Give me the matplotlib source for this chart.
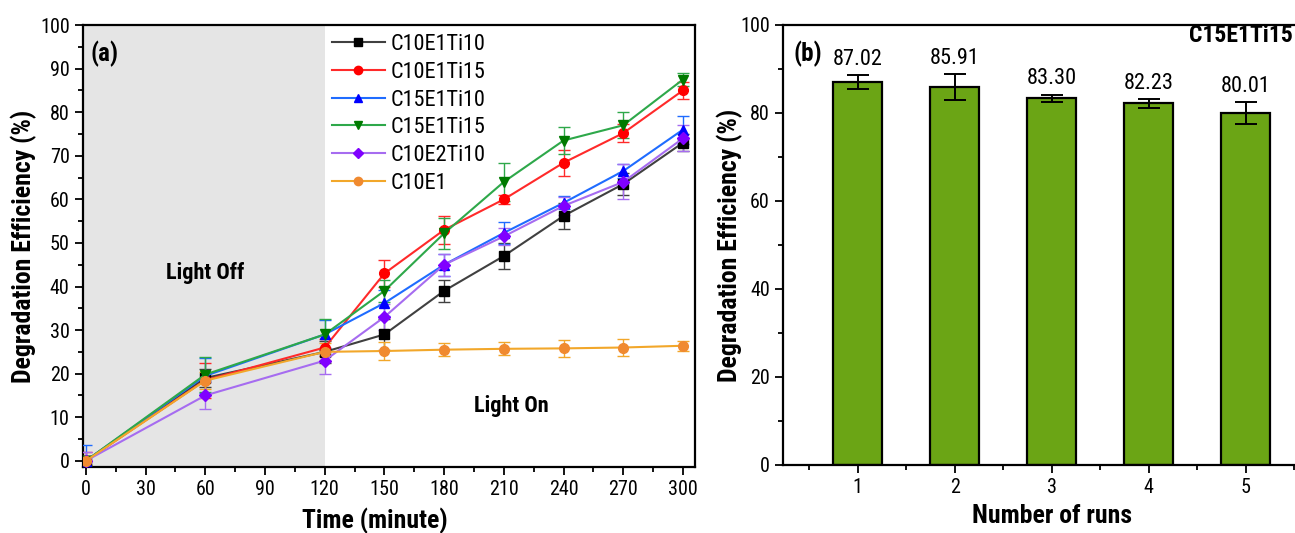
import numpy as np
import matplotlib
matplotlib.use('Agg')
import matplotlib.pyplot as plt
from matplotlib.ticker import MultipleLocator
from matplotlib.lines import Line2D

plt.rcParams['font.family'] = ['Roboto Condensed', 'Liberation Sans', 'DejaVu Sans']

# ── data ─────────────────────────────────────────────
time = [0, 60, 120, 150, 180, 210, 240, 270, 300]

c10e1ti10 = [0, 19, 25, 29, 39, 47, 56.2, 63.5, 73]
c10e1ti10_err = [1, 2, 2.5, 3.5, 2.5, 3, 3, 2.5, 2]
c10e1ti15 = [0, 18.5, 26, 43, 53, 60, 68.4, 75.2, 85]
c10e1ti15_err = [2, 4, 2, 3, 3.2, 1, 3, 2, 2]
c15e1ti10 = [0, 19.5, 29, 36.2, 45, 52.3, 59.2, 66.5, 76]
c15e1ti10_err = [3.7, 4, 3.3, 3, 2.5, 2.5, 1.5, 1.5, 3.2]
c15e1ti15 = [0, 19.8, 29, 39, 52.2, 64, 73.5, 77, 87.5]
c15e1ti15_err = [1, 4, 3.5, 2.5, 3.5, 4.3, 3.2, 3, 1.5]
c10e2ti10 = [0, 15, 23, 33, 45, 51.5, 58.5, 64, 74]
c10e2ti10_err = [2, 3, 3, 3, 2.5, 2, 2, 4, 3]
c10e1 = [0, 18.4, 25, 25.2, 25.5, 25.7, 25.8, 26, 26.4]
c10e1_err = [1, 2, 2, 2, 1.5, 1.5, 2, 2, 1.2]

runs = [1, 2, 3, 4, 5]
run_eff = [87.02, 85.91, 83.30, 82.23, 80.01]
run_err = [1.6, 2.9, 0.9, 1.0, 2.5]

series = [
    ('C10E1Ti10', c10e1ti10, c10e1ti10_err, '#404040', '#000000', 's'),
    ('C10E1Ti15', c10e1ti15, c10e1ti15_err, '#ff2a2a', '#ff0000', 'o'),
    ('C15E1Ti10', c15e1ti10, c15e1ti10_err, '#1f6cff', '#0000ff', '^'),
    ('C15E1Ti15', c15e1ti15, c15e1ti15_err, '#2ea84a', '#007a00', 'v'),
    ('C10E2Ti10', c10e2ti10, c10e2ti10_err, '#a66cf0', '#8000ff', 'D'),
    ('C10E1', c10e1, c10e1_err, '#f2a72a', '#f08a30', 'o'),
]

fig = plt.figure(figsize=(12.95, 5.33), dpi=100)

# ── (a) ─────────────────────────────────────────────
ax = fig.add_axes([0.064, 0.124, 0.4726, 0.829])
ax.axvspan(-1.5, 120, color='#e5e5e5', zorder=0, lw=0)
handles = []
for name, y, e, lc, mc, m in series:
    ms = 6 if m == 'D' else 7
    ax.errorbar(time, y, yerr=e, color=lc, lw=1.5, marker=m, ms=ms,
                mfc=mc, mec=mc, ecolor=lc, elinewidth=1.0, capsize=4,
                capthick=1.0, zorder=3)
    handles.append(Line2D([], [], color=lc, lw=1.5, marker=m, ms=ms - 1,
                          mfc=mc, mec=mc, label=name))
ax.set_xlim(-1.5, 306)
ax.set_ylim(-1.4, 100)
ax.xaxis.set_major_locator(MultipleLocator(30))
ax.xaxis.set_minor_locator(MultipleLocator(15))
ax.yaxis.set_major_locator(MultipleLocator(10))
ax.yaxis.set_minor_locator(MultipleLocator(5))
ax.tick_params(which='both', direction='out', labelsize=14.5, width=1.3)
ax.tick_params(which='major', length=6)
ax.tick_params(which='minor', length=3.5)
for sp in ax.spines.values():
    sp.set_linewidth(1.6)
ax.set_xlabel('Time (minute)', fontsize=18.5, fontweight='bold')
ax.xaxis.set_label_coords(0.477, -0.092)
ax.xaxis.label.set_va('top')
ax.set_ylabel('Degradation Efficiency (%)', fontsize=18.5, fontweight='bold')
ax.yaxis.set_label_coords(-0.075, 0.5)
ax.text(0.012, 0.965, '(a)', transform=ax.transAxes, fontsize=18,
        fontweight='bold', va='top', ha='left')
ax.text(60, 43, 'Light Off', fontsize=16, fontweight='bold', ha='center', va='center')
ax.text(214, 12.5, 'Light On', fontsize=16, fontweight='bold', ha='center', va='center')
ax.legend(handles=handles, loc='upper left', bbox_to_anchor=(0.383, 1.012), frameon=False,
          fontsize=16, handlelength=2.4, handletextpad=0.25,
          labelspacing=0.3, borderaxespad=0.25)

# ── (b) ─────────────────────────────────────────────
bx = fig.add_axes([0.6046, 0.1276, 0.415, 0.8255])
bx.bar(runs, run_eff, width=0.5, color='#6ba515', edgecolor='black', lw=1.6, zorder=2)
bx.errorbar(runs, run_eff, yerr=run_err, fmt='none', ecolor='black',
            elinewidth=1.4, capsize=8, capthick=1.4, zorder=3)
for r, v, e in zip(runs, run_eff, run_err):
    bx.text(r, v + e + 1.2, f'{v:.2f}', ha='center', va='bottom', fontsize=16)
bx.set_xlim(0.23, 5.77)
bx.set_ylim(0, 100)
bx.xaxis.set_major_locator(MultipleLocator(1))
bx.xaxis.set_minor_locator(MultipleLocator(0.5))
bx.yaxis.set_major_locator(MultipleLocator(20))
bx.yaxis.set_minor_locator(MultipleLocator(10))
bx.tick_params(which='both', direction='out', labelsize=14.5, width=1.3)
bx.tick_params(which='major', length=6)
bx.tick_params(which='minor', length=3.5)
for sp in bx.spines.values():
    sp.set_linewidth(1.6)
bx.set_xlabel('Number of runs', fontsize=18.5, fontweight='bold', labelpad=5)
bx.set_ylabel('Degradation Efficiency (%)', fontsize=18.5, fontweight='bold')
bx.yaxis.set_label_coords(-0.075, 0.5)
bx.text(0.02, 0.965, '(b)', transform=bx.transAxes, fontsize=18,
        fontweight='bold', va='top', ha='left')
fig.text(0.998, 1 - 36 / 533, 'C15E1Ti15', fontsize=17, fontweight='bold',
         ha='right', va='center')

fig.savefig('out.png', dpi=100, facecolor='white')
